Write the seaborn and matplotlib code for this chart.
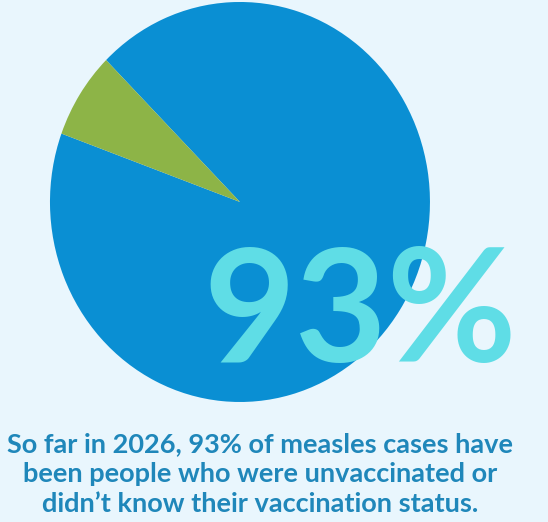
import matplotlib.pyplot as plt
import seaborn as sns

# data
labels = ['Unvaccinated or unknown status', 'Vaccinated']
shares = [93, 7]
colors = ['#0a8fd3', '#8db447']
headline = '93%'
caption = ("So far in 2026, 93% of measles cases have\n"
           "been people who were unvaccinated or\n"
           "didn\u2019t know their vaccination status.")

sns.set_theme(style='white')
plt.rcParams['font.family'] = ['Lato', 'DejaVu Sans']

bg = '#e9f6fd'
fig = plt.figure(figsize=(5.48, 5.22), dpi=100, facecolor=bg)

# pie axes, centred near (240, 202) px
ax = fig.add_axes([0.0912, 0.2299, 0.6934, 0.7663])
ax.pie(shares, colors=colors, startangle=160, counterclock=True,
       radius=1, wedgeprops=dict(linewidth=0))
ax.set_aspect('auto')
ax.set_xlim(-1, 1)
ax.set_ylim(-1, 1)
ax.axis('off')

# big number
fig.text(360 / 548, 1 - 362 / 522, headline, ha='center', va='baseline',
         fontsize=114, color='#5fdde6', fontweight='bold')

# caption
fig.text(260 / 548, 1 - 474 / 522, caption, ha='center', va='center',
         fontsize=19.5, color='#1f87ba', fontweight='bold',
         linespacing=1.3)

fig.savefig('out.png', dpi=100, facecolor=bg)
